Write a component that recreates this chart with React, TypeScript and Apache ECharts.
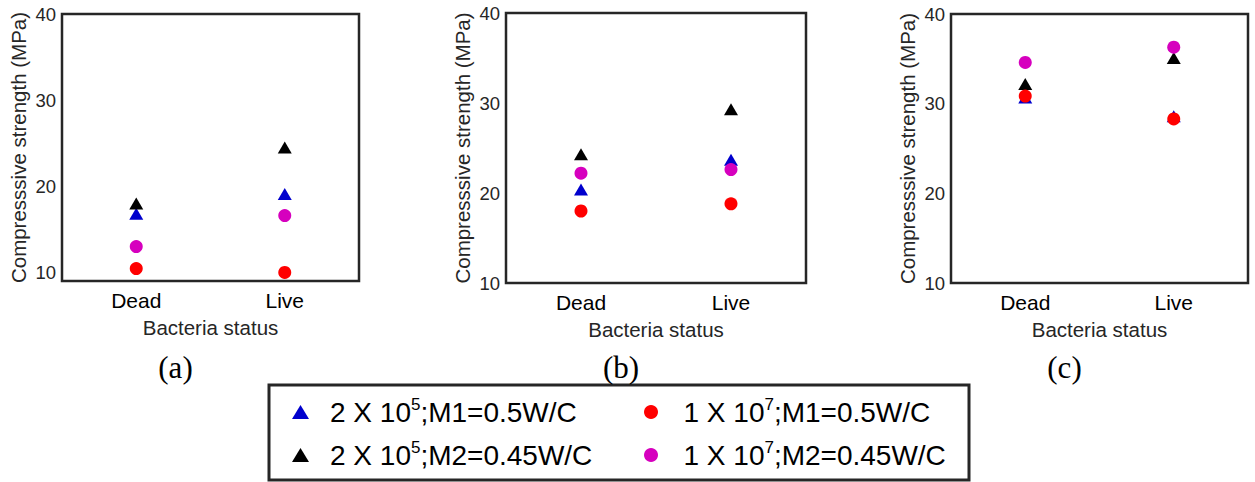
import React, { useEffect, useRef } from "react";
import * as echarts from "echarts";

// ---- data ----
const categories = ["Dead", "Live"];
const seriesNames = [
  "2 X 10^5;M1=0.5W/C",
  "2 X 10^5;M2=0.45W/C",
  "1 X 10^7;M1=0.5W/C",
  "1 X 10^7;M2=0.45W/C",
];
const yTicks = [10, 20, 30, 40];
const panelLabels = ["(a)", "(b)", "(c)"];
const yMins = [9, 10, 10];
const yMax = 40;

// panel (a)
const a_2e5_M1 = [16.8, 19.1];
const a_2e5_M2 = [18.0, 24.5];
const a_1e7_M1 = [10.45, 10.0];
const a_1e7_M2 = [13.0, 16.6];
// panel (b)
const b_2e5_M1 = [20.4, 23.7];
const b_2e5_M2 = [24.3, 29.3];
const b_1e7_M1 = [18.0, 18.8];
const b_1e7_M2 = [22.2, 22.6];
// panel (c)
const c_2e5_M1 = [30.7, 28.6];
const c_2e5_M2 = [32.2, 35.1];
const c_1e7_M1 = [30.85, 28.3];
const c_1e7_M2 = [34.6, 36.3];

const panels = [
  [a_2e5_M1, a_2e5_M2, a_1e7_M1, a_1e7_M2],
  [b_2e5_M1, b_2e5_M2, b_1e7_M1, b_1e7_M2],
  [c_2e5_M1, c_2e5_M2, c_1e7_M1, c_1e7_M2],
];

// ---- styles ----
const colors = ["#0000CD", "#000000", "#FF0000", "#D600BE"];
const symbols = ["triangle", "triangle", "circle", "circle"];
const symbolSizes: any[] = [[14, 12], [14, 12], 13, 13];
const gridBoxes = [
  { left: 62, top: 14, width: 297, height: 267 },
  { left: 506, top: 13, width: 300, height: 270 },
  { left: 951, top: 14, width: 297, height: 269 },
];
const SANS = "'Liberation Sans', Arial, sans-serif";
const AX = "#262626";

export default function App() {
  const ref = useRef<HTMLDivElement>(null);
  useEffect(() => {
    document.body.style.margin = "0";
    if (!ref.current) return;
    const chart = echarts.init(ref.current, undefined, { renderer: "svg" });

    const grid: any[] = [];
    const xAxis: any[] = [];
    const yAxis: any[] = [];
    const series: any[] = [];
    const tickStyle = { inside: true, length: 5, lineStyle: { color: AX, width: 2.5 } };

    gridBoxes.forEach((g, i) => {
      grid.push({ ...g, show: true, borderColor: AX, borderWidth: 2.5, backgroundColor: "#fff" });
      xAxis.push({
        gridIndex: i,
        type: "category",
        data: categories,
        boundaryGap: true,
        axisLine: { show: false },
        axisTick: { ...tickStyle, alignWithLabel: true },
        axisLabel: { margin: 9, fontSize: 21, color: "#000", fontFamily: SANS },
        name: "Bacteria status",
        nameLocation: "middle",
        nameGap: 36,
        nameTextStyle: { fontSize: 20.5, color: AX, fontFamily: SANS },
        splitLine: { show: false },
      });
      xAxis.push({
        gridIndex: i,
        type: "category",
        position: "top",
        data: categories,
        boundaryGap: true,
        axisLine: { show: false },
        axisTick: { ...tickStyle, alignWithLabel: true },
        axisLabel: { show: false },
        splitLine: { show: false },
      });
      yAxis.push({
        gridIndex: i,
        type: "value",
        min: yMins[i],
        max: yMax,
        axisLine: { show: false },
        axisTick: { ...tickStyle, customValues: yTicks },
        axisLabel: { margin: 6, fontSize: 18.5, color: AX, fontFamily: SANS, customValues: yTicks },
        splitLine: { show: false },
        name: "Compresssive strength (MPa)",
        nameLocation: "middle",
        nameGap: 33,
        nameTextStyle: { fontSize: 20.5, color: AX, fontFamily: SANS },
      });
      yAxis.push({
        gridIndex: i,
        type: "value",
        position: "right",
        min: yMins[i],
        max: yMax,
        axisLine: { show: false },
        axisTick: { ...tickStyle, customValues: yTicks },
        axisLabel: { show: false, customValues: yTicks },
        splitLine: { show: false },
      });
      panels[i].forEach((vals, k) => {
        series.push({
          type: "scatter",
          name: seriesNames[k],
          xAxisIndex: 2 * i,
          yAxisIndex: 2 * i,
          data: vals.map((v, j) => [categories[j], v]),
          symbol: symbols[k],
          symbolSize: symbolSizes[k],
          itemStyle: { color: colors[k], opacity: 1 },
          z: 2 + k,
        });
      });
    });

    const legendText = {
      fontSize: 28,
      color: "#000",
      fontFamily: SANS,
      lineHeight: 32,
      rich: {
        sup: { fontSize: 17, lineHeight: 15, verticalAlign: "top", color: "#000", fontFamily: SANS },
      },
    };
    const fmt = (name: string) => name.replace(/\^(\d+)/, "{sup|$1}");

    const option: any = {
      animation: false,
      backgroundColor: "#fff",
      grid,
      xAxis,
      yAxis,
      series,
      legend: [
        {
          data: [seriesNames[0], seriesNames[1]],
          orient: "vertical",
          left: 292,
          top: 396,
          itemWidth: 17,
          itemHeight: 14,
          itemGap: 11,
          padding: 0,
          selectedMode: false,
          formatter: fmt,
          textStyle: { ...legendText, padding: [0, 0, 0, 16] },
        },
        {
          data: [seriesNames[2], seriesNames[3]],
          orient: "vertical",
          left: 644,
          top: 396,
          itemWidth: 17,
          itemHeight: 14,
          itemGap: 11,
          padding: 0,
          selectedMode: false,
          formatter: fmt,
          textStyle: { ...legendText, padding: [0, 0, 0, 19] },
        },
      ],
      graphic: [
        {
          type: "rect",
          shape: { x: 269, y: 385, width: 700, height: 95 },
          style: { fill: "none", stroke: AX, lineWidth: 3 },
          z: 0,
        },
        ...panelLabels.map((t, i) => ({
          type: "text",
          x: gridBoxes[i].left + gridBoxes[i].width / 2 - 35,
          y: 367,
          style: {
            text: t,
            fontSize: 31,
            fontFamily: "'Liberation Serif', 'Times New Roman', serif",
            fill: "#000",
            align: "center",
            verticalAlign: "middle",
          },
        })),
      ],
    };
    chart.setOption(option);
    return () => chart.dispose();
  }, []);
  return <div ref={ref} style={{ width: 1255, height: 482 }} />;
}
